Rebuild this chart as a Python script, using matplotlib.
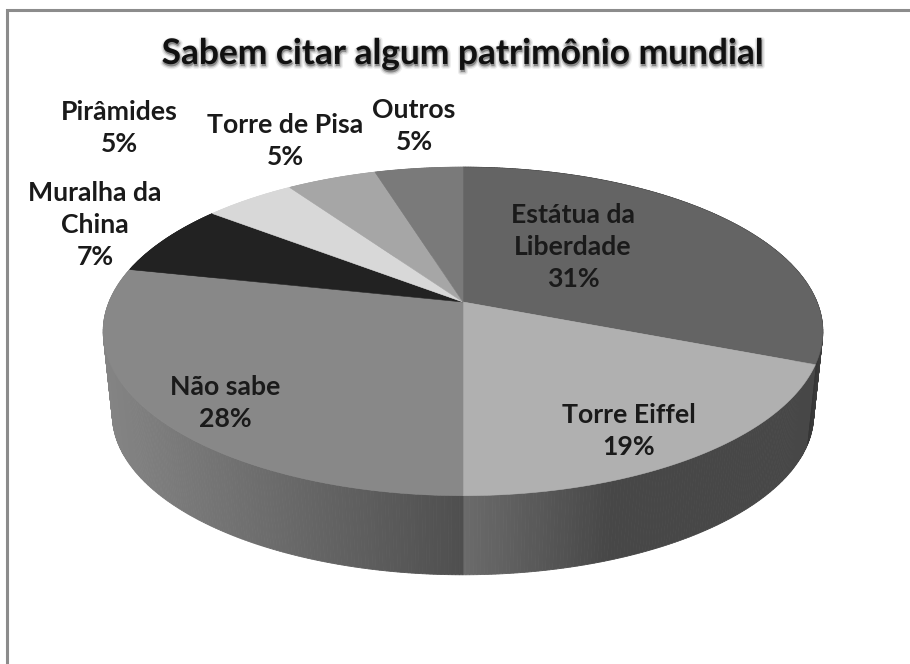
import numpy as np
import matplotlib
matplotlib.use("Agg")
import matplotlib.pyplot as plt
import matplotlib.patheffects as pe
from matplotlib.patches import Polygon, Rectangle

# dados
labels = ["Estátua da\nLiberdade", "Torre Eiffel", "Não sabe", "Muralha da\nChina", "Pirâmides", "Torre de Pisa", "Outros"]
values = [31, 19, 28.4, 7.2, 4.9, 4.8, 4.7]
top_colors = ["#646464", "#b0b0b0", "#888888", "#222222", "#d8d8d8", "#a6a6a6", "#7a7a7a"]
# cor da lateral: (x, cinza) por fatia
side_stops = [
    ([800, 822], [0.13, 0.24]),
    ([463, 610], [0.42, 0.28]),
    ([102, 463], [0.52, 0.31]),
    ([0, 910], [0.13, 0.13]),
    ([0, 910], [0.85, 0.85]),
    ([0, 910], [0.65, 0.65]),
    ([0, 910], [0.48, 0.48]),
]
label_pos = [(573, 247), (629, 431), (225, 403), (95, 225), (119, 128), (285, 141), (414, 126)]

# geometria da pizza em perspectiva (pixels)
cx, cy = 463, 302
persp = 0.179
top_w, top_h = 354, 159
low_w, low_h, low_y = 345, 155, 386


def project(t, w, h, y0):
    # t em graus, sentido horário a partir do topo
    r = np.radians(t)
    d = 1 + persp * np.cos(r)
    return cx + w * np.sin(r) / d, y0 - h * np.cos(r) / d


fig = plt.figure(figsize=(9.1, 6.64), dpi=100)
ax = fig.add_axes([0, 0, 1, 1])
ax.set_xlim(0, 910)
ax.set_ylim(664, 0)
ax.axis("off")

# moldura só aparece em cima e à esquerda
ax.add_patch(Rectangle((7, 10), 1000, 800, fc="white", ec="#8c8c8c", lw=2.2))

edges = np.cumsum([0] + values) * 3.6

# lateral, de trás para frente
strips = []
for i, v in enumerate(values):
    a = np.arange(edges[i], edges[i + 1], 0.5)
    a = np.append(a, edges[i + 1])
    for t0, t1 in zip(a[:-1], a[1:]):
        strips.append((np.cos(np.radians(t0)), i, t0, t1))
strips.sort(key=lambda s: -s[0])
for _, i, t0, t1 in strips:
    x0, y0 = project(t0, top_w, top_h, cy)
    x1, y1 = project(t1, top_w, top_h, cy)
    x2, y2 = project(t1, low_w, low_h, low_y)
    x3, y3 = project(t0, low_w, low_h, low_y)
    g = np.interp((x0 + x1) / 2, side_stops[i][0], side_stops[i][1])
    ax.add_patch(Polygon([(x0, y0), (x1, y1), (x2, y2), (x3, y3)], fc=(g, g, g), ec=(g, g, g), lw=0.6))

# topo
for i, v in enumerate(values):
    a = np.linspace(edges[i], edges[i + 1], 80)
    xs, ys = project(a, top_w, top_h, cy)
    pts = [(cx, cy)] + list(zip(xs, ys))
    ax.add_patch(Polygon(pts, fc=top_colors[i], ec=top_colors[i], lw=0.4))

# textos
for lab, v, (x, y) in zip(labels, values, label_pos):
    ax.text(x, y, f"{lab}\n{round(v)}%", ha="center", va="center", fontsize=19.2, family="Lato",
            weight="bold", color="#1a1a1a", linespacing=1.38)

title = ax.text(463, 54, "Sabem citar algum patrimônio mundial", ha="center", va="center",
                fontsize=25.4, family="Lato", weight="bold", color="#111111")
title.set_path_effects([
    pe.Stroke(linewidth=4, foreground="#999999", alpha=0.18, offset=(0.5, -1.5)),
    pe.Stroke(linewidth=2, foreground="#777777", alpha=0.3, offset=(0.5, -1.5)),
    pe.Normal(),
])

fig.savefig("out.png", dpi=100)
